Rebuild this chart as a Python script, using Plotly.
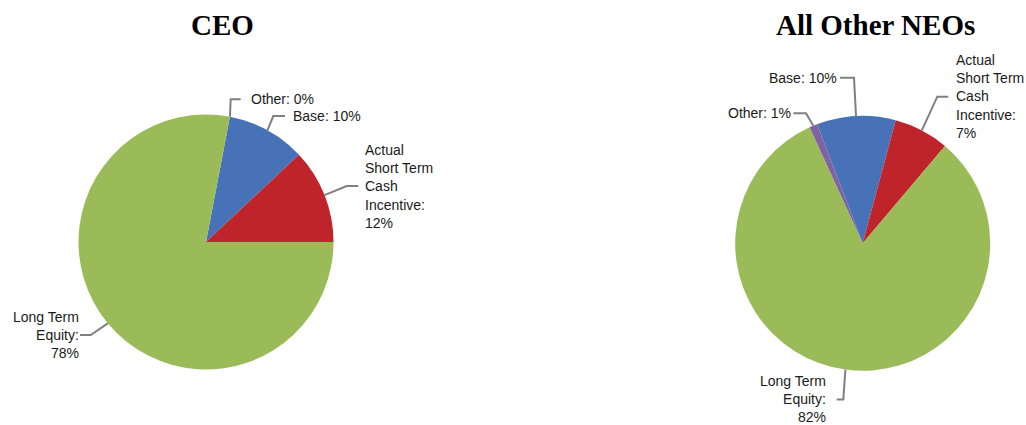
import math
import plotly.graph_objects as go

W, H = 1026, 425

# ---- data ----
categories = ["Base", "Actual Short Term Cash Incentive", "Long Term Equity", "Other"]
ceo_values = [10, 12, 78, 0]
neo_values = [10, 7, 82, 1]
colors = ["#4872B8", "#BE242A", "#9BBB59", "#7F62A1"]

ceo_labels = ["Base: 10%", "Actual<br>Short Term<br>Cash<br>Incentive:<br>12%",
              "Long Term<br>Equity:<br>78%", "Other: 0%"]
neo_labels = ["Base: 10%", "Actual<br>Short Term<br>Cash<br>Incentive:<br>7%",
              "Long Term<br>Equity:<br>82%", "Other: 1%"]
titles = ["CEO", "All Other NEOs"]

# ---- layout parameters (pixels) ----
pies = [
    dict(values=ceo_values, labels=ceo_labels, cx=206, cy=242, r=127.5, rot=10.8,
         title_x=222.8,
         # per slice: elbow x, elbow y, end x, text x, text y, anchor
         lead=[(273.3, 116, 285, 290.5, 116, "left"),
               (346.7, 186, 358.3, 362.5, 186, "left"),
               (90.7, 335, 80, 80.5, 335, "right"),
               (230.7, 99.3, 240.7, 248.5, 99.3, "left")]),
    dict(values=neo_values, labels=neo_labels, cx=862.7, cy=243.3, r=127.5, rot=-21,
         title_x=875.8,
         lead=[(854, 77.7, 840, 838.5, 77.7, "right"),
               (937.3, 96.7, 948.3, 954, 96.7, "left"),
               (843.3, 399.5, 836.7, 827.5, 398.5, "right"),
               (806, 113.3, 793.3, 792.5, 113.3, "right")]),
]

fig = go.Figure()
shapes = []
annotations = []

for p in pies:
    cx, cy, r = p["cx"], p["cy"], p["r"]
    fig.add_trace(go.Pie(
        labels=categories, values=p["values"], sort=False, direction="clockwise",
        rotation=p["rot"], textinfo="none", hoverinfo="label+percent",
        marker=dict(colors=colors, line=dict(width=0)), showlegend=False,
        domain=dict(x=[(cx - r) / W, (cx + r) / W],
                    y=[(H - cy - r) / H, (H - cy + r) / H]),
    ))
    total = sum(p["values"])
    cum = 0.0
    for v, lab, (ex, ey, endx, tx, ty, anc) in zip(p["values"], p["labels"], p["lead"]):
        mid = p["rot"] + (cum + v / 2) / total * 360
        cum += v
        a = math.radians(mid)
        sx, sy = cx + r * math.sin(a), cy - r * math.cos(a)
        shapes.append(dict(type="path", xref="x", yref="y",
                           path=f"M {sx:.1f},{sy:.1f} L {ex},{ey} L {endx},{ey}",
                           line=dict(color="#808080", width=2)))
        annotations.append(dict(x=tx, y=ty, xref="x", yref="y", text=lab,
                                showarrow=False, xanchor=anc, yanchor="middle",
                                align=anc,
                                font=dict(family="Liberation Sans, Arial, sans-serif",
                                          size=14, color="#1a1a1a")))

for t, p in zip(titles, pies):
    annotations.append(dict(x=p["title_x"], y=25, xref="x", yref="y", text=f"<b>{t}</b>",
                            showarrow=False, xanchor="center", yanchor="middle",
                            font=dict(family="Liberation Serif, Times New Roman, serif",
                                      size=29, color="#000000")))

fig.update_layout(
    width=W, height=H, margin=dict(l=0, r=0, t=0, b=0),
    paper_bgcolor="white", plot_bgcolor="rgba(0,0,0,0)",
    xaxis=dict(range=[0, W], visible=False, fixedrange=True),
    yaxis=dict(range=[H, 0], visible=False, fixedrange=True),
    shapes=shapes, annotations=annotations, showlegend=False,
)

fig.write_html("out.html")
